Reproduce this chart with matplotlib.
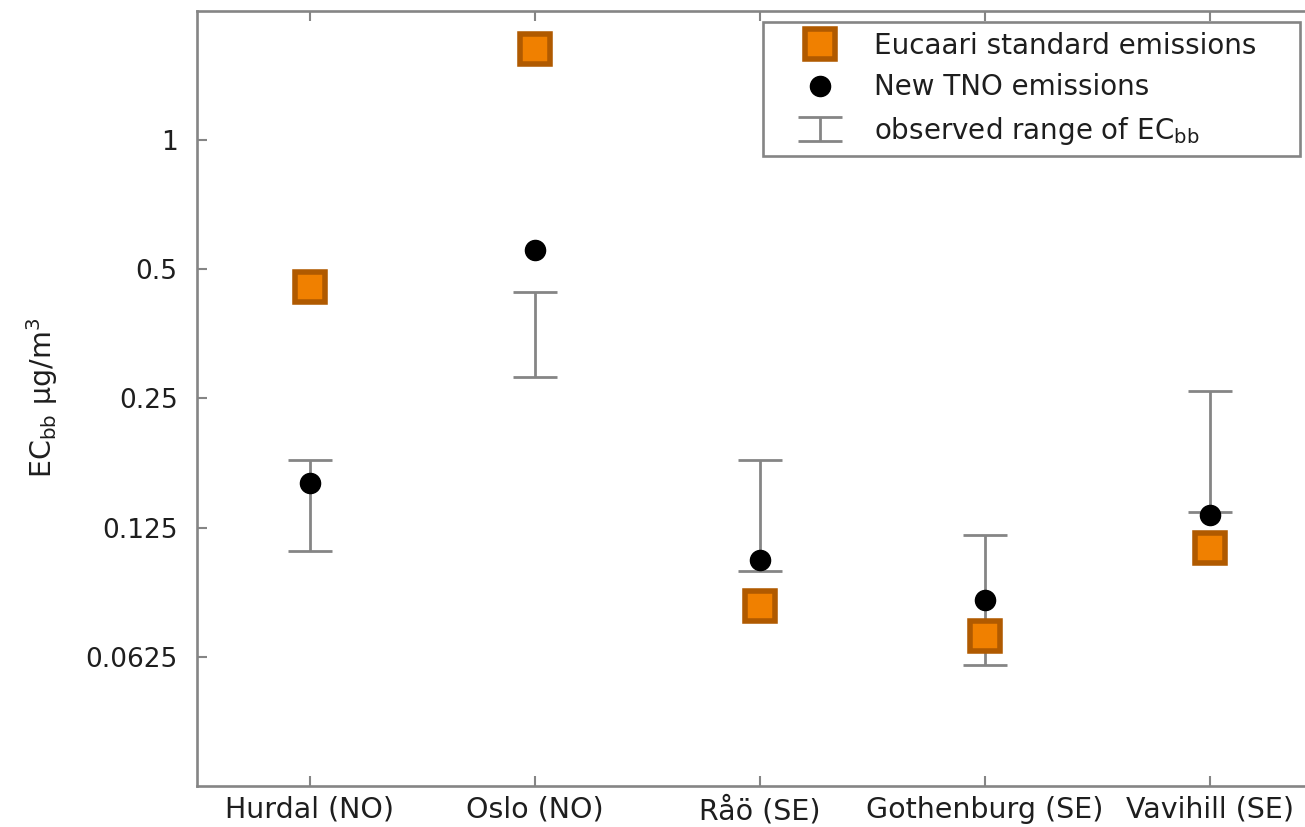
import matplotlib
matplotlib.use('Agg')
import matplotlib.pyplot as plt
from matplotlib.ticker import FixedLocator, FixedFormatter, NullLocator
from matplotlib.legend_handler import HandlerErrorbar
from matplotlib.container import ErrorbarContainer
import numpy as np

sites = ['Hurdal (NO)', 'Oslo (NO)', 'Råö (SE)', 'Gothenburg (SE)', 'Vavihill (SE)']
eucaari = [0.454, 1.63, 0.0821, 0.0699, 0.1123]
tno = [0.159, 0.554, 0.105, 0.0849, 0.134]
obs_low = [0.110, 0.280, 0.0988, 0.0599, 0.1355]
obs_high = [0.180, 0.442, 0.180, 0.1204, 0.260]
yticks = [1, 0.5, 0.25, 0.125, 0.0625]
ytick_labels = ['1', '0.5', '0.25', '0.125', '0.0625']

plt.rcParams['font.family'] = ['DejaVu Sans']
plt.rcParams['mathtext.fontset'] = 'dejavusans'
TXT = '#1e1e1e'
GRAY = '#858585'
FS_Y = 19
FS_X = 20.5
FS_LEG = 20

W, H = 1305, 827
fig = plt.figure(figsize=(W / 100, H / 100), dpi=100)
ax = fig.add_axes([197 / W, 1 - 786 / H, (W - 197) / W, (786 - 10.6) / H])

x = np.arange(1, len(sites) + 1)
low = np.array(obs_low)
high = np.array(obs_high)

eb = ax.errorbar(x, low, yerr=[np.zeros_like(low), high - low], fmt='none',
                 ecolor=GRAY, elinewidth=2.0, capsize=16, capthick=2.0,
                 zorder=2, label='observed range of EC$_{\\mathregular{bb}}$')
dots, = ax.plot(x, tno, linestyle='none', marker='o', markersize=14.5,
                color='black', zorder=3, label='New TNO emissions')
squares, = ax.plot(x, eucaari, linestyle='none', marker='s', markersize=21,
                   markerfacecolor='#f08000', markeredgecolor='#b05a00',
                   markeredgewidth=4, zorder=4, label='Eucaari standard emissions')

ax.set_yscale('log', base=2)
ax.set_ylim(1 / 32, 2)
ax.set_xlim(0.5, 0.5 + (W - 197) / 225)
ax.yaxis.set_major_locator(FixedLocator(yticks))
ax.yaxis.set_major_formatter(FixedFormatter(ytick_labels))
ax.yaxis.set_minor_locator(NullLocator())
ax.set_xticks(x)
ax.set_xticklabels(sites)

ax.tick_params(axis='both', direction='in', length=7.5, width=1.5, color=GRAY,
               labelcolor=TXT)
ax.tick_params(axis='x', top=True, bottom=True, pad=7, labelsize=FS_X)
ax.tick_params(axis='y', left=True, right=False, pad=14, labelsize=FS_Y)

for side in ['left', 'bottom', 'top']:
    ax.spines[side].set_color(GRAY)
    ax.spines[side].set_linewidth(1.9)
ax.spines['right'].set_visible(False)

ax.set_ylabel('EC$_{\\mathregular{bb}}$ µg/m$^{\\mathregular{3}}$', fontsize=20.5, color=TXT)
ax.yaxis.set_label_coords(-0.124, 0.5)

leg = ax.legend(handles=[squares, dots, eb], loc='upper left',
                bbox_to_anchor=(0.5108, 0.985, 0.4847, 0), mode='expand',
                borderaxespad=0, fontsize=FS_LEG, frameon=True, fancybox=False,
                edgecolor=GRAY, framealpha=1, numpoints=1,
                handlelength=3.4, handletextpad=0.25, borderpad=0.35,
                labelspacing=0.48,
                handler_map={ErrorbarContainer: HandlerErrorbar(yerr_size=0.42)})
leg.get_frame().set_linewidth(1.9)
for t in leg.get_texts():
    t.set_color(TXT)

fig.savefig('out.png', dpi=100)
